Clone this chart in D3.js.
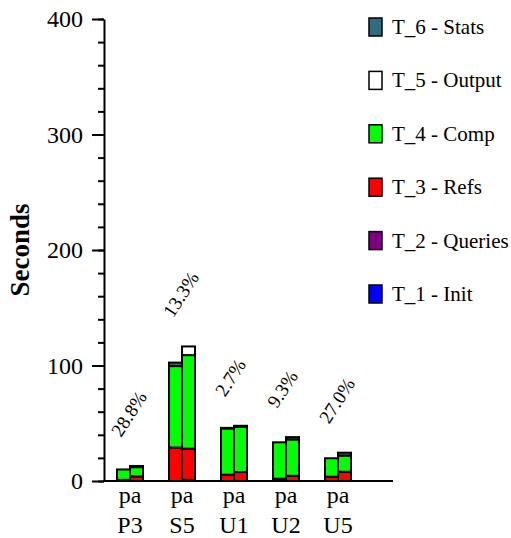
<!DOCTYPE html>
<html>
<head>
<meta charset="utf-8">
<script src="https://cdn.jsdelivr.net/npm/d3@7"></script>
<style>
  body { margin: 0; background: #fff; }
  svg { font-family: "Liberation Serif", "DejaVu Serif", serif; }
</style>
</head>
<body>
<svg id="grafico"></svg>
<script>
const largura = 511;
const altura = 538;

// categorias (duas linhas de rótulo) e percentuais
const grupos = ["P3", "S5", "U1", "U2", "U5"];
const prefixo = "pa";
const percentuais = ["28.8%", "13.3%", "2.7%", "9.3%", "27.0%"];

// séries: dois valores por grupo (barra 1, barra 2)
const series = ["T_1 - Init", "T_2 - Queries", "T_3 - Refs", "T_4 - Comp", "T_5 - Output", "T_6 - Stats"];
const cores = ["#0000ff", "#800080", "#ff0000", "#00ff00", "#ffffff", "#336b80"];
const init    = [[0, 0], [0, 1], [0, 0], [0, 0], [0, 0]];
const queries = [[0, 0], [0, 0], [0, 0], [0, 0], [0, 0]];
const refs    = [[1, 4], [29, 27], [5.5, 7.8], [2, 4.5], [3.7, 8]];
const comp    = [[9, 8], [70.5, 81], [40, 39], [31.5, 31.5], [16, 14]];
const output  = [[0, 0.5], [0, 7.5], [0, 0], [0, 0], [0, 0]];
const stats   = [[0, 0.5], [3, 0], [0.5, 1], [0, 2], [0, 2.5]];
const valores = [init, queries, refs, comp, output, stats];

const ticksY = [0, 100, 200, 300, 400];

const svg = d3.select("#grafico")
    .attr("width", largura)
    .attr("height", altura);

const x0 = d3.scaleBand()
    .domain(grupos)
    .range([104, 364])
    .paddingInner(0.5)
    .paddingOuter(0.25);

const x1 = d3.scaleBand()
    .domain([0, 1])
    .range([0, x0.bandwidth()]);

const y = d3.scaleLinear()
    .domain([0, 400])
    .range([481, 19]);

// monta as pilhas
const barras = [];
grupos.forEach((g, gi) => {
    [0, 1].forEach(b => {
        let base = 0;
        valores.forEach((s, si) => {
            const v = s[gi][b];
            if (v > 0) {
                barras.push({ g, b, si, y0: base, y1: base + v });
            }
            base += v;
        });
    });
});

const totais = grupos.map((g, gi) =>
    d3.max([0, 1], b => d3.sum(valores, s => s[gi][b])));

svg.append("g")
    .selectAll("rect")
    .data(barras)
    .join("rect")
    .attr("x", d => x0(d.g) + x1(d.b))
    .attr("width", x1.bandwidth())
    .attr("y", d => y(d.y1))
    .attr("height", d => y(d.y0) - y(d.y1))
    .attr("fill", d => cores[d.si])
    .attr("stroke", "#000")
    .attr("stroke-width", 2);

// percentuais rotacionados
svg.append("g")
    .selectAll("text")
    .data(grupos)
    .join("text")
    .attr("transform", (g, i) => `translate(${x0(g) + 4},${y(totais[i]) - 28}) rotate(-57)`)
    .attr("font-size", 19)
    .text((g, i) => percentuais[i]);

// eixo Y: marcas menores e maiores
svg.append("g")
    .attr("transform", "translate(104,0)")
    .call(d3.axisLeft(y).tickValues(d3.range(0, 401, 20)).tickSize(6).tickSizeOuter(0).tickFormat(""))
    .call(g => g.select(".domain").remove())
    .selectAll("line").attr("stroke-width", 2);

const eixoY = svg.append("g")
    .attr("transform", "translate(104,0)")
    .call(d3.axisLeft(y).tickValues(ticksY).tickSize(12).tickSizeOuter(0).tickPadding(9));
eixoY.selectAll("line").attr("stroke-width", 2);
eixoY.select(".domain").attr("stroke-width", 2);
eixoY.selectAll("text")
    .attr("font-family", "Liberation Serif")
    .attr("font-size", 24)
    .attr("fill", "#000");

// eixo X
svg.append("line")
    .attr("x1", 103).attr("x2", 393)
    .attr("y1", y(0)).attr("y2", y(0))
    .attr("stroke", "#000")
    .attr("stroke-width", 2);

const rotulos = svg.append("g")
    .selectAll("text")
    .data(grupos)
    .join("text")
    .attr("x", g => x0(g) + x0.bandwidth() / 2)
    .attr("text-anchor", "middle")
    .attr("font-size", 24);
rotulos.append("tspan").attr("x", g => x0(g) + x0.bandwidth() / 2).attr("y", 503).text(prefixo);
rotulos.append("tspan").attr("x", g => x0(g) + x0.bandwidth() / 2).attr("y", 533).text(g => g);

// título do eixo
svg.append("text")
    .attr("transform", `translate(29,${y(200)}) rotate(-90)`)
    .attr("text-anchor", "middle")
    .attr("font-weight", "bold")
    .attr("font-size", 27)
    .text("Seconds");

// legenda (de cima para baixo: T_6 ... T_1)
const legenda = svg.append("g")
    .selectAll("g")
    .data(d3.range(series.length - 1, -1, -1))
    .join("g")
    .attr("transform", (si, k) => `translate(369,${27 + k * 53.4})`);

legenda.append("rect")
    .attr("x", 0).attr("y", -9)
    .attr("width", 13).attr("height", 18)
    .attr("fill", si => cores[si])
    .attr("stroke", "#000")
    .attr("stroke-width", 1.5);

legenda.append("text")
    .attr("x", 23)
    .attr("y", 7)
    .attr("font-size", 21)
    .text(si => series[si]);
</script>
</body>
</html>
